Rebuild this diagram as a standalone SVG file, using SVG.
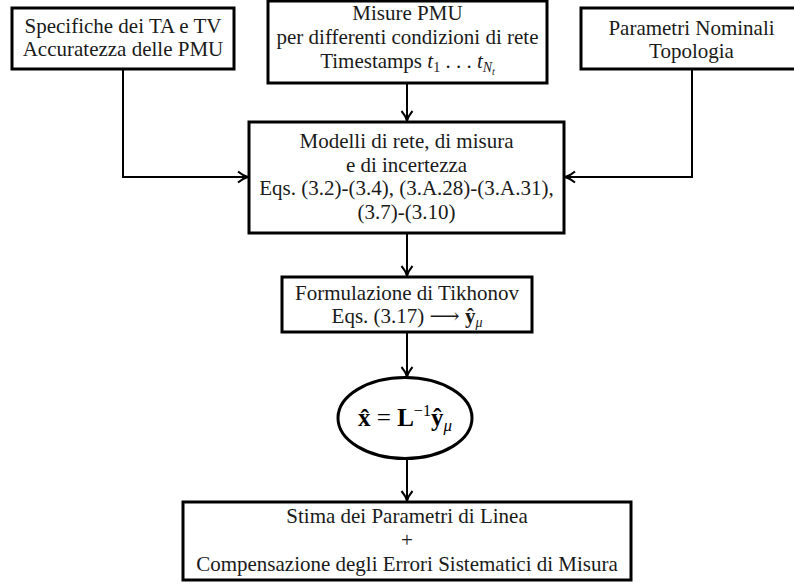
<svg xmlns="http://www.w3.org/2000/svg" width="794" height="587" viewBox="0 0 794 587">
<style>
.box{fill:#fff;stroke:#000;stroke-width:3}
.t{font-family:"Liberation Serif","DejaVu Serif",serif;font-size:21px;fill:#1a1a1a;text-anchor:middle}
.m{font-family:"Liberation Serif","DejaVu Serif",serif;fill:#000;text-anchor:middle}
.c{fill:none;stroke:#000;stroke-width:2}
</style>
<defs>
<marker id="ah" markerUnits="userSpaceOnUse" markerWidth="14" markerHeight="14" refX="11" refY="7" orient="auto" overflow="visible">
<path d="M1,1.5 Q6,5.8 11,7 Q6,8.2 1,12.5" fill="none" stroke="#000" stroke-width="2"/>
</marker>
</defs>
<g id="connectors">
<path class="c" d="M123,69 V177 H248" marker-end="url(#ah)"/>
<path class="c" d="M692,69 V177 H565" marker-end="url(#ah)"/>
<path class="c" d="M407,83 V121" marker-end="url(#ah)"/>
<path class="c" d="M407,233 V276" marker-end="url(#ah)"/>
<path class="c" d="M407,332 V377" marker-end="url(#ah)"/>
<path class="c" d="M407,459 V501" marker-end="url(#ah)"/>
</g>
<g id="n1">
<rect class="box" x="12" y="8" width="222" height="61"/>
<text class="t" x="123" y="33">Specifiche dei TA e TV</text>
<text class="t" x="123" y="56">Accuratezza delle PMU</text>
</g>
<g id="n2">
<rect class="box" x="268" y="1" width="279" height="82"/>
<text class="t" x="407.5" y="20">Misure PMU</text>
<text class="t" x="407.5" y="44">per differenti condizioni di rete</text>
<text class="t" x="407.5" y="68">Timestamps <tspan font-style="italic">t</tspan><tspan font-size="14" dy="4">1</tspan><tspan dy="-4"> . . . </tspan><tspan font-style="italic">t</tspan><tspan font-size="14" font-style="italic" dy="4">N</tspan><tspan font-size="10" font-style="italic" dy="3">t</tspan></text>
</g>
<g id="n3">
<rect class="box" x="581" y="8" width="221" height="61"/>
<text class="t" x="691.5" y="35">Parametri Nominali</text>
<text class="t" x="691.5" y="58">Topologia</text>
</g>
<g id="n4">
<rect class="box" x="249" y="122" width="315" height="111"/>
<text class="t" x="406.5" y="148">Modelli di rete, di misura</text>
<text class="t" x="406.5" y="171.5">e di incertezza</text>
<text class="t" x="406.5" y="195">Eqs. (3.2)-(3.4), (3.A.28)-(3.A.31),</text>
<text class="t" x="406.5" y="218.5">(3.7)-(3.10)</text>
</g>
<g id="n5">
<rect class="box" x="282" y="277" width="250" height="55"/>
<text class="t" x="407" y="300">Formulazione di Tikhonov</text>
<text class="t" x="407" y="323">Eqs. (3.17) ⟶ <tspan font-weight="bold">ŷ</tspan><tspan font-size="14" font-style="italic" dy="4">μ</tspan></text>
</g>
<g id="n6">
<ellipse cx="405" cy="418" rx="67" ry="40.5" fill="#fff" stroke="#000" stroke-width="3"/>
<text class="m" x="405" y="426" font-size="25"><tspan font-weight="bold">x̂</tspan> = <tspan font-weight="bold">L</tspan><tspan font-size="16" dy="-10">−1</tspan><tspan font-weight="bold" dy="10">ŷ</tspan><tspan font-size="17" font-style="italic" dy="5">μ</tspan></text>
</g>
<g id="n7">
<rect class="box" x="183" y="502" width="448" height="78"/>
<text class="t" x="407" y="523">Stima dei Parametri di Linea</text>
<text class="t" x="407" y="547">+</text>
<text class="t" x="407" y="571">Compensazione degli Errori Sistematici di Misura</text>
</g>
</svg>
